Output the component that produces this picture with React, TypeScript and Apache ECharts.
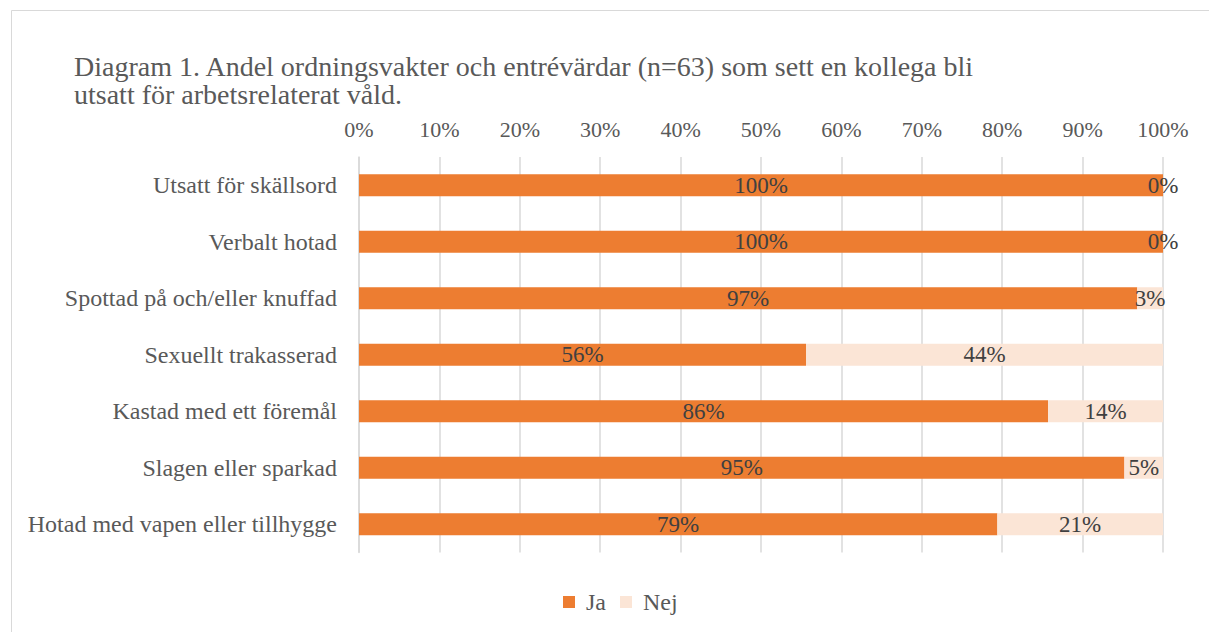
import React, { useEffect, useRef } from "react";
import * as echarts from "echarts";

const categories = [
  "Utsatt för skällsord",
  "Verbalt hotad",
  "Spottad på och/eller knuffad",
  "Sexuellt trakasserad",
  "Kastad med ett föremål",
  "Slagen eller sparkad",
  "Hotad med vapen eller tillhygge",
];
const jaValues = [100, 100, 96.8, 55.6, 85.7, 95.2, 79.4];
const nejValues = [0, 0, 3.2, 44.4, 14.3, 4.8, 20.6];
const titleText =
  "Diagram 1. Andel ordningsvakter och entrévärdar (n=63) som sett en kollega bli\nutsatt för arbetsrelaterat våld.";

const FONT = "Liberation Serif";

export default function App() {
  const ref = useRef<HTMLDivElement>(null);
  useEffect(() => {
    document.body.style.margin = "0";
    const chart = echarts.init(ref.current!, undefined, { renderer: "svg" });
    const labelStyle = {
      show: true,
      position: "inside" as const,
      formatter: (p: any) => `${Math.round(p.value)}%`,
      color: "#404040",
      fontFamily: FONT,
      fontSize: 23,
    };
    chart.setOption({
      animation: false,
      backgroundColor: "#ffffff",
      textStyle: { fontFamily: FONT },
      graphic: [
        {
          type: "rect",
          shape: { x: 11.5, y: 10.5, width: 1400, height: 800 },
          style: { fill: "none", stroke: "#d9d9d9", lineWidth: 1 },
          silent: true,
        },
      ],
      title: {
        text: titleText,
        left: 74,
        top: 52,
        padding: 0,
        textStyle: {
          fontFamily: FONT,
          fontSize: 28,
          fontWeight: "normal",
          color: "#595959",
          lineHeight: 28,
        },
      },
      legend: {
        top: 590,
        left: 563,
        padding: 0,
        itemWidth: 12,
        itemHeight: 12,
        itemGap: 14,
        icon: "rect",
        textStyle: {
          fontFamily: FONT,
          fontSize: 24,
          color: "#595959",
          padding: [0, 0, 0, 6],
        },
        data: ["Ja", "Nej"],
      },
      grid: { left: 359, right: 46, top: 157, bottom: 79.5, containLabel: false },
      xAxis: {
        type: "value",
        position: "top",
        min: 0,
        max: 100,
        interval: 10,
        axisLine: { show: false },
        axisTick: { show: false },
        splitLine: { show: true, lineStyle: { color: "#d9d9d9", width: 1.5 } },
        axisLabel: {
          formatter: "{value}%",
          fontFamily: FONT,
          fontSize: 22,
          color: "#595959",
          margin: 17,
        },
      },
      yAxis: {
        type: "category",
        inverse: true,
        data: categories,
        axisLine: { show: true, lineStyle: { color: "#d9d9d9", width: 1.5 } },
        axisTick: { show: false },
        axisLabel: {
          fontFamily: FONT,
          fontSize: 24,
          color: "#595959",
          margin: 22,
        },
      },
      series: [
        {
          name: "Ja",
          type: "bar",
          stack: "total",
          barWidth: 22,
          data: jaValues,
          itemStyle: { color: "#ED7D31" },
          label: labelStyle,
        },
        {
          name: "Nej",
          type: "bar",
          stack: "total",
          barWidth: 22,
          data: nejValues,
          itemStyle: { color: "#FBE5D6" },
          label: labelStyle,
        },
      ],
    });
    return () => chart.dispose();
  }, []);
  return (
    <div
      ref={ref}
      style={{ position: "absolute", left: 0, top: 0, width: 1209, height: 632 }}
    />
  );
}
